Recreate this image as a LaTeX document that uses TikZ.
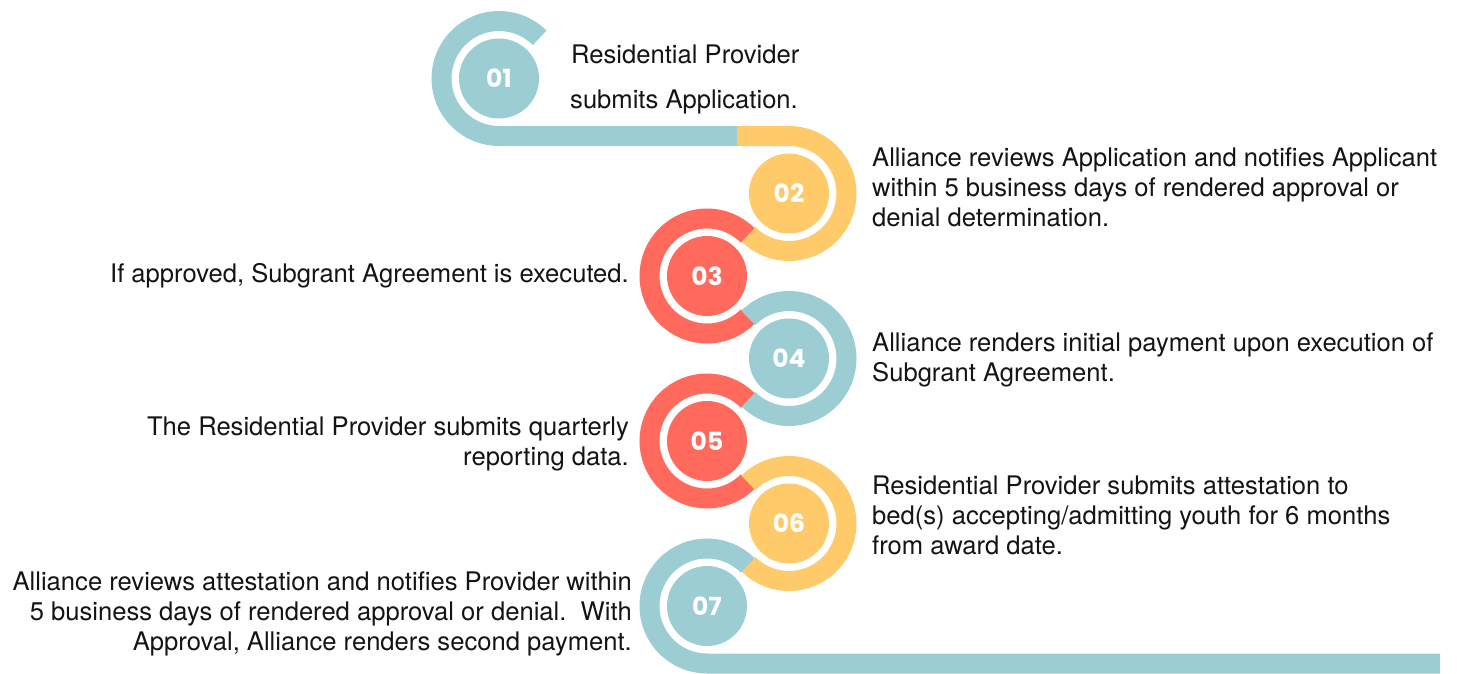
\documentclass[tikz,border=0pt]{standalone}
\usepackage{fontspec}
\usetikzlibrary{calc}
\setmainfont{TeX Gyre Heros}
\newfontfamily\numfont{Poppins}
\definecolor{tealc}{HTML}{9BCDD3}
\definecolor{yelc}{HTML}{FECA6A}
\definecolor{redc}{HTML}{FF6A5C}
\definecolor{txtc}{HTML}{141414}
\begin{document}
\begin{tikzpicture}[x=1pt,y=1pt,
  band/.style={line width=20pt, line cap=butt},
  numcirc/.style={circle, minimum size=80pt, inner sep=0pt, text=white,
    font=\numfont\bfseries\fontsize{25}{25}\selectfont},
  lt/.style={anchor=base west, inner sep=0pt, text=txtc, font=\fontsize{25.6}{30}\selectfont},
  rt/.style={anchor=base east, inner sep=0pt, text=txtc, font=\fontsize{25.6}{30}\selectfont}]
\useasboundingbox (0,0) rectangle (1457,-673);
\def\R{57.5}
\coordinate (c1) at (499,-78.5);
\coordinate (c2) at (789,-193.5);
\coordinate (c3) at (707,-276);
\coordinate (c4) at (789,-358.5);
\coordinate (c5) at (707,-441);
\coordinate (c6) at (789,-523.5);
\coordinate (c7) at (707,-606);
\coordinate (j12) at (737,-136);
\coordinate (e7) at (1440,-663.5);
% bands
\draw[band, tealc] ($(c1)+(45:\R)$) arc[start angle=45, end angle=270, radius=\R] -- (j12);
\draw[band, yelc] (j12) -- ($(c2)+(90:\R)$) arc[start angle=90, end angle=-135, radius=\R];
\draw[band, redc] ($(c3)+(45:\R)$) arc[start angle=45, end angle=315, radius=\R];
\draw[band, tealc] ($(c4)+(135:\R)$) arc[start angle=135, end angle=-135, radius=\R];
\draw[band, redc] ($(c5)+(45:\R)$) arc[start angle=45, end angle=315, radius=\R];
\draw[band, yelc] ($(c6)+(135:\R)$) arc[start angle=135, end angle=-135, radius=\R];
\draw[band, tealc] ($(c7)+(45:\R)$) arc[start angle=45, end angle=270, radius=\R] -- (e7);
% number circles
\node[numcirc, fill=tealc] (n1) at (c1) {01};
\node[numcirc, fill=yelc] (n2) at (c2) {02};
\node[numcirc, fill=redc] (n3) at (c3) {03};
\node[numcirc, fill=tealc] (n4) at (c4) {04};
\node[numcirc, fill=redc] (n5) at (c5) {05};
\node[numcirc, fill=yelc] (n6) at (c6) {06};
\node[numcirc, fill=tealc] (n7) at (c7) {07};
% texts
\node[lt] (t1a) at (571,-63) {Residential Provider};
\node[lt] (t1b) at (570,-108) {submits Application.};
\node[lt] (t2a) at (872,-166) {Alliance reviews Application and notifies Applicant};
\node[lt] (t2b) at (872,-196) {within 5 business days of rendered approval or};
\node[lt] (t2c) at (872,-226) {denial determination.};
\node[rt] (t3a) at (629,-282) {If approved, Subgrant Agreement is executed.};
\node[lt] (t4a) at (872,-351) {Alliance renders initial payment upon execution of};
\node[lt] (t4b) at (872,-381) {Subgrant Agreement.};
\node[rt] (t5a) at (629,-435) {The Residential Provider submits quarterly};
\node[rt] (t5b) at (629,-465) {reporting data.};
\node[lt] (t6a) at (872,-494) {Residential Provider submits attestation to};
\node[lt] (t6b) at (872,-524) {bed(s) accepting/admitting youth for 6 months};
\node[lt] (t6c) at (872,-554) {from award date.};
\node[rt] (t7a) at (632,-590) {Alliance reviews attestation and notifies Provider within};
\node[rt] (t7b) at (632,-620) {5 business days of rendered approval or denial.\ \ With};
\node[rt] (t7c) at (632,-650) {Approval, Alliance renders second payment.};
\end{tikzpicture}
\end{document}
